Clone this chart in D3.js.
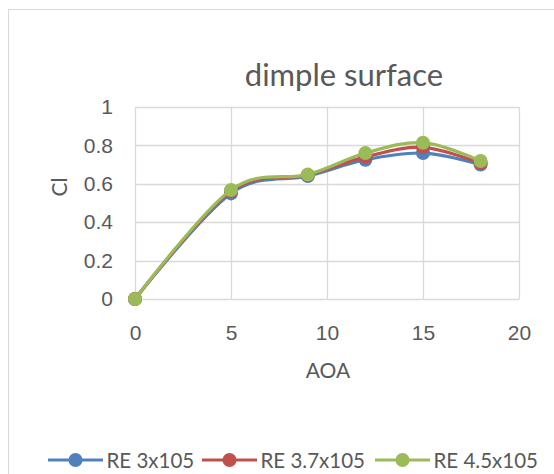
<!DOCTYPE html>
<html>
<head>
<meta charset="utf-8">
<script src="https://cdn.jsdelivr.net/npm/d3@7"></script>
<style>
  html, body { margin: 0; padding: 0; background: #fff; }
  svg { display: block; font-family: Lato, "Open Sans", sans-serif; }
</style>
</head>
<body>
<svg id="chart" width="554" height="474"></svg>
<script>
// Angle of attack (degrees)
const aoa = [0, 5, 9, 12, 15, 18];
// Lift coefficient per Reynolds number
const cl3 = [0, 0.55, 0.64, 0.725, 0.76, 0.70];
const cl37 = [0, 0.56, 0.645, 0.74, 0.79, 0.707];
const cl45 = [0, 0.568, 0.648, 0.76, 0.814, 0.719];
const seriesNames = ["RE 3x105", "RE 3.7x105", "RE 4.5x105"];
const xTicks = [0, 5, 10, 15, 20];
const yTicks = [0, 0.2, 0.4, 0.6, 0.8, 1];

const colors = ["#4F81BD", "#C0504D", "#9BBB59"];
const series = [cl3, cl37, cl45].map((vals, i) => ({
  name: seriesNames[i],
  color: colors[i],
  points: aoa.map((a, j) => ({ x: a, y: vals[j] }))
}));

const svg = d3.select("#chart");
const textColor = "#595959";

// chart frame
svg.append("rect")
  .attr("x", 8.5).attr("y", 9.5)
  .attr("width", 600).attr("height", 600)
  .attr("fill", "#fff").attr("stroke", "#d9d9d9");

const x = d3.scaleLinear().domain([0, 20]).range([135, 519]);
const y = d3.scaleLinear().domain([0, 1]).range([299, 107]);

// gridlines
svg.append("g").selectAll("line").data(yTicks).join("line")
  .attr("x1", x(0)).attr("x2", x(20))
  .attr("y1", d => Math.round(y(d)) + 0.5).attr("y2", d => Math.round(y(d)) + 0.5)
  .attr("stroke", "#d9d9d9").attr("stroke-width", 1.3);
svg.append("g").selectAll("line").data(xTicks).join("line")
  .attr("y1", y(0)).attr("y2", y(1))
  .attr("x1", d => Math.round(x(d)) + 0.5).attr("x2", d => Math.round(x(d)) + 0.5)
  .attr("stroke", "#d9d9d9").attr("stroke-width", 1.3);

// axes
const xAxis = d3.axisBottom(x).tickValues(xTicks).tickSize(0).tickPadding(25);
const gx = svg.append("g").attr("transform", `translate(0,${y(0)})`).call(xAxis);
gx.select(".domain").remove();
gx.selectAll("text").attr("dy", null).attr("fill", textColor)
  .style("font-size", "21px").attr("y", 41);

const yAxis = d3.axisLeft(y).tickValues(yTicks).tickSize(0).tickPadding(22)
  .tickFormat(d => d3.format("")(+d.toFixed(1)));
const gy = svg.append("g").attr("transform", `translate(${x(0)},0)`).call(yAxis);
gy.select(".domain").remove();
gy.selectAll("text").attr("fill", textColor).style("font-size", "21px");

// title and axis titles
svg.append("text").attr("x", 344).attr("y", 86).attr("text-anchor", "middle")
  .attr("fill", textColor).style("font-size", "31px").text("dimple surface");
svg.append("text").attr("x", 328).attr("y", 378).attr("text-anchor", "middle")
  .attr("fill", textColor).style("font-size", "21px").text("AOA");
svg.append("text").attr("transform", "translate(67,187) rotate(-90)")
  .attr("text-anchor", "middle").attr("fill", textColor)
  .style("font-size", "21px").text("Cl");

// series lines and markers
const line = d3.line().x(d => x(d.x)).y(d => y(d.y)).curve(d3.curveCardinal.tension(0));
const gs = svg.append("g").selectAll("g").data(series).join("g");
gs.append("path")
  .attr("d", d => line(d.points))
  .attr("fill", "none").attr("stroke", d => d.color).attr("stroke-width", 3.2)
  .attr("stroke-linejoin", "round").attr("stroke-linecap", "round");
gs.each(function(s) {
  d3.select(this).selectAll("circle").data(s.points).join("circle")
    .attr("cx", d => x(d.x)).attr("cy", d => y(d.y)).attr("r", 7)
    .attr("fill", s.color);
});

// legend
const legendX = [48, 202, 375];
const lg = svg.append("g").selectAll("g").data(series).join("g")
  .attr("transform", (d, i) => `translate(${legendX[i]},460)`);
lg.append("line").attr("x1", 0).attr("x2", 55).attr("y1", 0).attr("y2", 0)
  .attr("stroke", d => d.color).attr("stroke-width", 3.2);
lg.append("circle").attr("cx", 27.5).attr("cy", 0).attr("r", 7).attr("fill", d => d.color);
lg.append("text").attr("x", 58.5).attr("y", 7.5).attr("fill", textColor)
  .style("font-size", "20.5px").text(d => d.name);
</script>
</body>
</html>
